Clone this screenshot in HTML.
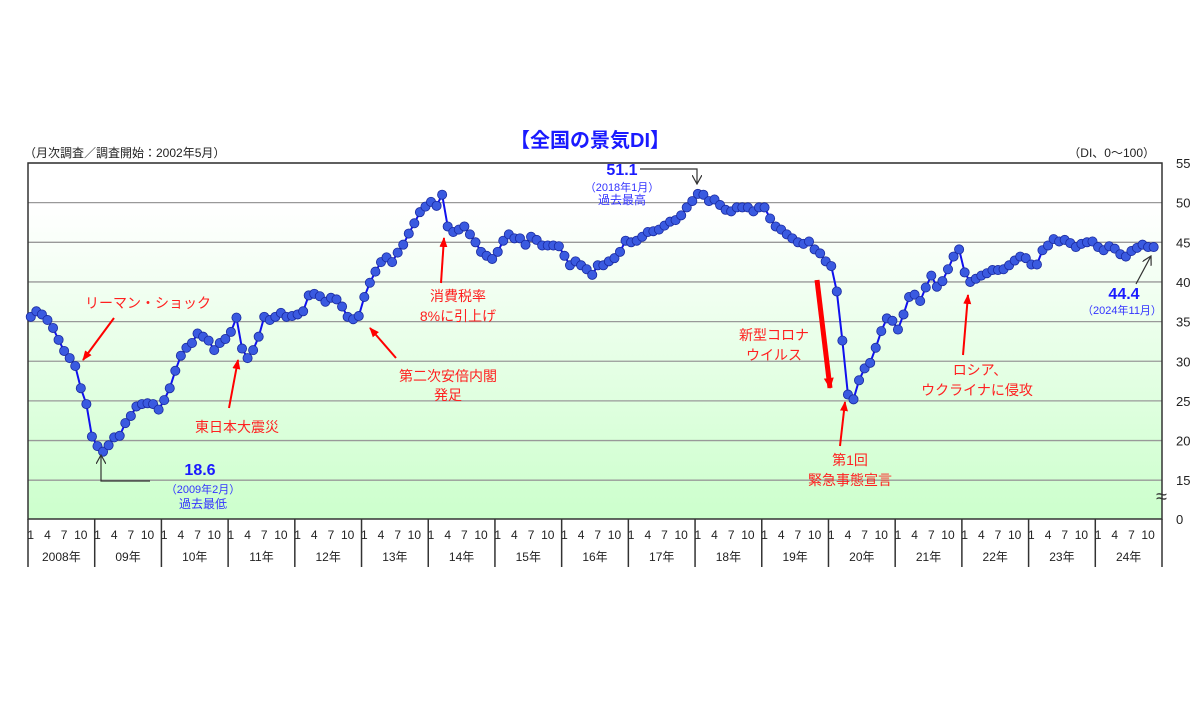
<!DOCTYPE html>
<html><head><meta charset="utf-8">
<style>
body{margin:0;background:#fff;width:1200px;height:700px;overflow:hidden;font-family:"Liberation Sans","Noto Sans CJK JP",sans-serif;}
svg text{font-family:"Liberation Sans","Noto Sans CJK JP",sans-serif;}
</style></head>
<body>
<svg id="chart" width="1200" height="700" xmlns="http://www.w3.org/2000/svg">
<defs>
<linearGradient id="bg" x1="0" y1="0" x2="0" y2="1">
<stop offset="0" stop-color="#ffffff"/><stop offset="0.12" stop-color="#ffffff"/><stop offset="1" stop-color="#ccffcc"/>
</linearGradient>
<marker id="ar" markerUnits="userSpaceOnUse" markerWidth="10" markerHeight="10" refX="9" refY="5" orient="auto"><path d="M0,1 L10,5 L0,9 z" fill="#ff0000"/></marker>
<marker id="ar2" markerUnits="userSpaceOnUse" markerWidth="12" markerHeight="12" refX="10" refY="6" orient="auto"><path d="M0,1 L11,6 L0,11 z" fill="#ff0000"/></marker>
<marker id="ak" markerUnits="userSpaceOnUse" markerWidth="10" markerHeight="10" refX="9" refY="5" orient="auto"><path d="M0,0 L9,5 L0,10" fill="none" stroke="#333" stroke-width="1.2"/></marker>
</defs>
<g id="plot"></g>
<g id="annot">
<text x="590" y="147" text-anchor="middle" font-size="20" font-weight="bold" fill="#1a1aff">【全国の景気DI】</text>
<text x="24" y="157" font-size="12" fill="#222">（月次調査／調査開始：2002年5月）</text>
<text x="1155" y="157" text-anchor="end" font-size="12" fill="#222">（DI、0～100）</text>

<text x="148" y="308" text-anchor="middle" font-size="14" fill="#ff2020">リーマン・ショック</text>
<line x1="114" y1="318" x2="83" y2="360" stroke="#ff0000" stroke-width="2" marker-end="url(#ar)"/>
<text x="237" y="432" text-anchor="middle" font-size="14" fill="#ff2020">東日本大震災</text>
<line x1="229" y1="408" x2="238" y2="360" stroke="#ff0000" stroke-width="2" marker-end="url(#ar)"/>
<text x="448" y="381" text-anchor="middle" font-size="14" fill="#ff2020">第二次安倍内閣</text>
<text x="448" y="400" text-anchor="middle" font-size="14" fill="#ff2020">発足</text>
<line x1="396" y1="358" x2="370" y2="328" stroke="#ff0000" stroke-width="2" marker-end="url(#ar)"/>
<text x="458" y="301" text-anchor="middle" font-size="14" fill="#ff2020">消費税率</text>
<text x="458" y="321" text-anchor="middle" font-size="14" fill="#ff2020">8%に引上げ</text>
<line x1="441" y1="283" x2="444" y2="238" stroke="#ff0000" stroke-width="2" marker-end="url(#ar)"/>
<text x="774" y="340" text-anchor="middle" font-size="14" fill="#ff2020">新型コロナ</text>
<text x="774" y="360" text-anchor="middle" font-size="14" fill="#ff2020">ウイルス</text>
<line x1="817" y1="280" x2="830" y2="388" stroke="#ff0000" stroke-width="5" marker-end="url(#ar2)"/>
<text x="850" y="465" text-anchor="middle" font-size="14" fill="#ff2020">第1回</text>
<text x="850" y="485" text-anchor="middle" font-size="14" fill="#ff2020">緊急事態宣言</text>
<line x1="840" y1="446" x2="845" y2="402" stroke="#ff0000" stroke-width="2" marker-end="url(#ar)"/>
<text x="980" y="375" text-anchor="middle" font-size="14" fill="#ff2020">ロシア、</text>
<text x="977" y="395" text-anchor="middle" font-size="14" fill="#ff2020">ウクライナに侵攻</text>
<line x1="963" y1="355" x2="968" y2="295" stroke="#ff0000" stroke-width="2" marker-end="url(#ar)"/>

<path d="M150,481 L101,481 L101,455" fill="none" stroke="#333" stroke-width="1.2" marker-end="url(#ak)"/>
<text x="200" y="475" text-anchor="middle" font-size="16" font-weight="bold" fill="#1a1aff">18.6</text>
<text x="203" y="493" text-anchor="middle" font-size="11" fill="#3333ff">（2009年2月）</text>
<text x="203" y="508" text-anchor="middle" font-size="12" fill="#3333ff">過去最低</text>
<path d="M640,169 L697,169 L697,184" fill="none" stroke="#333" stroke-width="1.2" marker-end="url(#ak)"/>
<text x="622" y="175" text-anchor="middle" font-size="16" font-weight="bold" fill="#1a1aff">51.1</text>
<text x="622" y="191" text-anchor="middle" font-size="11" fill="#3333ff">（2018年1月）</text>
<text x="622" y="204" text-anchor="middle" font-size="12" fill="#3333ff">過去最高</text>
<line x1="1136" y1="284" x2="1151" y2="256" stroke="#333" stroke-width="1.2" marker-end="url(#ak)"/>
<text x="1124" y="299" text-anchor="middle" font-size="16" font-weight="bold" fill="#1a1aff">44.4</text>
<text x="1122" y="314" text-anchor="middle" font-size="11" fill="#3333ff">（2024年11月）</text>
</g>
</svg>
<script>
const years = ['2008年','09年','10年','11年','12年','13年','14年','15年','16年','17年','18年','19年','20年','21年','22年','23年','24年'];
const yTicks = [15,20,25,30,35,40,45,50,55];
const monthTicks = ['1','4','7','10'];
const di = [
35.6,36.3,35.9,35.2,34.2,32.7,31.3,30.4,29.4,26.6,24.6,20.5,
19.3,18.6,19.4,20.4,20.6,22.2,23.1,24.3,24.6,24.7,24.6,23.9,
25.1,26.6,28.8,30.7,31.7,32.3,33.5,33.1,32.6,31.4,32.3,32.8,
33.7,35.5,31.6,30.4,31.4,33.1,35.6,35.2,35.6,36.1,35.6,35.7,
35.9,36.3,38.3,38.5,38.2,37.5,38.0,37.8,36.9,35.6,35.3,35.7,
38.1,39.9,41.3,42.5,43.1,42.5,43.7,44.7,46.1,47.4,48.8,49.5,
50.1,49.6,51.0,47.0,46.3,46.6,47.0,46.0,45.0,43.8,43.3,42.9,
43.8,45.2,46.0,45.5,45.5,44.7,45.7,45.3,44.6,44.6,44.6,44.5,
43.3,42.1,42.6,42.1,41.6,40.9,42.1,42.1,42.6,43.0,43.8,45.2,
45.0,45.2,45.7,46.3,46.4,46.6,47.1,47.6,47.8,48.4,49.4,50.2,
51.1,51.0,50.2,50.4,49.7,49.1,48.9,49.4,49.4,49.4,48.9,49.4,
49.4,48.0,47.0,46.6,46.0,45.5,45.0,44.8,45.1,44.1,43.6,42.6,
42.0,38.8,32.6,25.8,25.2,27.6,29.1,29.8,31.7,33.8,35.4,35.1,
34.0,35.9,38.1,38.4,37.6,39.3,40.8,39.4,40.1,41.6,43.2,44.1,
41.2,40.0,40.4,40.8,41.1,41.5,41.5,41.6,42.1,42.7,43.2,43.0,
42.2,42.2,44.0,44.6,45.4,45.1,45.3,44.9,44.4,44.8,45.0,45.1,
44.4,44.0,44.5,44.2,43.5,43.2,43.9,44.3,44.7,44.4,44.4];

const L=28,R=1162,T=163,B=519,nM=years.length*12,slot=(R-L)/nM;
const xS=i=>L+(i+0.5)*slot;
const yS=v=>T+(55-v)*7.93;
const NS='http://www.w3.org/2000/svg';
const g=document.getElementById('plot');
function mk(t,a,p){const e=document.createElementNS(NS,t);for(const k in a)e.setAttribute(k,a[k]);(p||g).appendChild(e);return e;}

const bgr=mk('rect',{x:L,y:T,width:R-L,height:B-T,fill:'url(#bg)'});


yTicks.forEach(v=>{
  const ln=mk('line',{x1:L,x2:R,y1:yS(v),y2:yS(v),stroke:'#999',"stroke-width":1.3});
  
  
  const t=mk('text',{x:1176,y:yS(v)+5,'font-size':13,fill:'#222'});
  t.textContent=v;
  
  
});
const z=mk('text',{x:1176,y:B+5,'font-size':13,fill:'#222'});z.textContent='0';


const br=mk('text',{x:1156,y:503,'font-size':20,fill:'#333'});br.textContent='≈';


const fr=mk('rect',{x:L,y:T,width:R-L,height:B-T,fill:'none',stroke:'#333',"stroke-width":1.5});



years.forEach((yl,k)=>{
  const x0=L+k*12*slot;
  const dv=mk('line',{x1:x0,x2:x0,y1:B,y2:567,stroke:'#333',"stroke-width":1.5});
  
  
  monthTicks.forEach(m=>{
    const t=mk('text',{x:xS(k*12+(+m)-1),y:539,'text-anchor':'middle','font-size':12,fill:'#222'});
    t.textContent=m;
    
    
  });
  const t=mk('text',{x:x0+6*slot,y:561,'text-anchor':'middle','font-size':12,fill:'#222'});
  t.textContent=yl;
  
  
});
const endL=mk('line',{x1:R,x2:R,y1:B,y2:567,stroke:'#333',"stroke-width":1.5});



const pl=mk('polyline',{points:di.map((v,i)=>xS(i)+','+yS(v)).join(' '),fill:'none',stroke:'#1010ee',"stroke-width":2});


di.forEach((v,i)=>{
  const c=mk('circle',{cx:xS(i),cy:yS(v),r:4.6,fill:'#3a5ae0',stroke:'#1a2aa0',"stroke-width":0.8});
  
  
});
const an=document.getElementById('annot');an.parentNode.appendChild(an);
</script>
</body></html>
